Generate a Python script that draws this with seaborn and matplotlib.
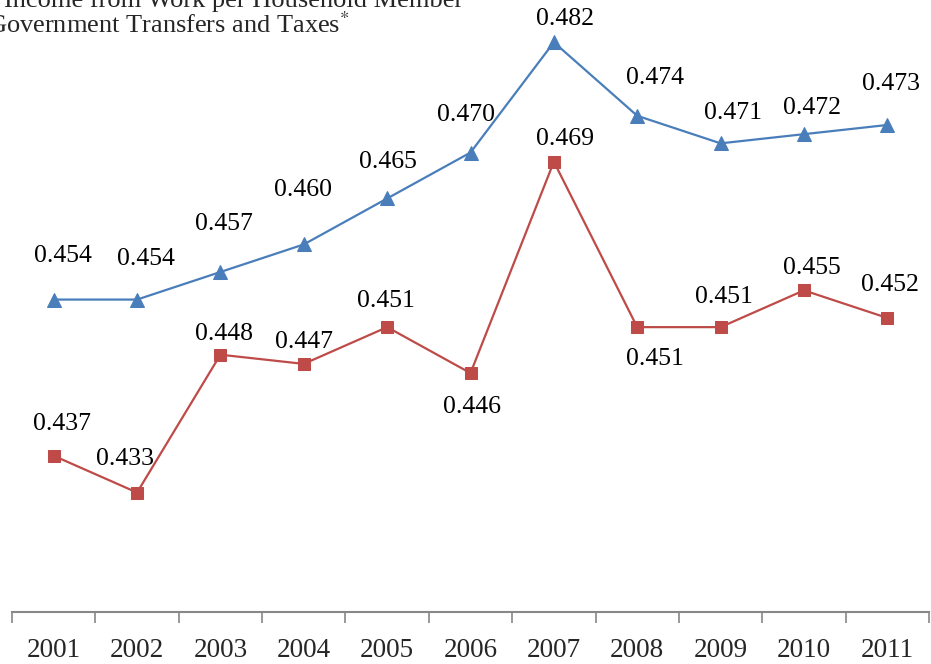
import matplotlib
matplotlib.use("Agg")
import matplotlib.pyplot as plt
import seaborn as sns
import pandas as pd

years = ["2001", "2002", "2003", "2004", "2005", "2006", "2007", "2008", "2009", "2010", "2011"]
before_taxes = [0.454, 0.454, 0.457, 0.460, 0.465, 0.470, 0.482, 0.474, 0.471, 0.472, 0.473]
after_taxes = [0.437, 0.433, 0.448, 0.447, 0.451, 0.446, 0.469, 0.451, 0.451, 0.455, 0.452]
header_lines = ["Income from Work per Household Member", "Government Transfers and Taxes$^{*}$"]

# label offsets in pixels (dx, dy) relative to each point
blue_off = [(9, 44), (9, 41), (4, 48), (-1, 54), (1, 36), (-5, 38), (11, 23), (18, 38), (12, 30), (8, 26), (4, 41)]
red_off = [(8, 32), (-12, 34), (4, 21), (0, 22), (-1, 26), (2, -34), (11, 23), (18, -32), (3, 30), (8, 22), (3, 33)]

sns.set_theme(style="white")
plt.rcParams["font.family"] = ["Liberation Serif", "DejaVu Serif"]
plt.rcParams["mathtext.fontset"] = "stix"

BLUE = "#4A7EBB"
RED = "#BE4B48"

df = pd.DataFrame({
    "x": list(range(len(years))) * 2,
    "value": before_taxes + after_taxes,
    "series": ["before"] * len(years) + ["after"] * len(years),
})

fig = plt.figure(figsize=(9.31, 6.64), dpi=100)
ax = fig.add_axes([12 / 931, 1 - 612 / 664, (929 - 12) / 931, 612 / 664])

sns.lineplot(data=df[df.series == "before"], x="x", y="value", ax=ax, color=BLUE,
             marker="^", markersize=10, markeredgecolor=BLUE, linewidth=1.6, legend=False)
sns.lineplot(data=df[df.series == "after"], x="x", y="value", ax=ax, color=RED,
             marker="s", markersize=8, markeredgecolor=RED, linewidth=1.6, legend=False)

for i, v in enumerate(before_taxes):
    ax.annotate(f"{v:.3f}", (i, v), xytext=blue_off[i], textcoords="offset pixels",
                ha="center", va="center", fontsize=18.5, color="black")
for i, v in enumerate(after_taxes):
    ax.annotate(f"{v:.3f}", (i, v), xytext=red_off[i], textcoords="offset pixels",
                ha="center", va="center", fontsize=18.5, color="black")

ax.set_xlim(-0.5, len(years) - 0.5)
ax.set_ylim(0.42, 0.4866)
ax.set_xticks(range(len(years)))
ax.set_xticklabels(years, fontsize=19.5)
ax.set_xticks([i - 0.5 for i in range(len(years) + 1)], minor=True)
ax.tick_params(axis="x", which="major", length=0, pad=19)
ax.tick_params(axis="x", which="minor", length=8, width=1.2, color="#888888", direction="out", bottom=True)
ax.set_yticks([])
ax.set_xlabel("")
ax.set_ylabel("")
for s in ["top", "right", "left"]:
    ax.spines[s].set_visible(False)
ax.spines["bottom"].set_color("#888888")
ax.spines["bottom"].set_linewidth(1.5)
ax.patch.set_alpha(0)

fig.text(463 / 931, 1 - 7 / 664, header_lines[0], ha="right", va="baseline", fontsize=19)
fig.text(350 / 931, 1 - 33 / 664, header_lines[1], ha="right", va="baseline", fontsize=19)

fig.savefig("out.png", dpi=100)
